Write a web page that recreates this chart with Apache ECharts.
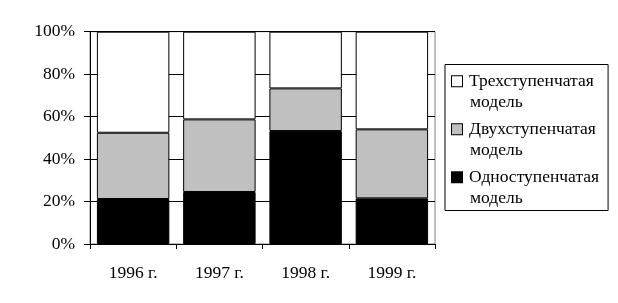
<!DOCTYPE html>
<html><head><meta charset="utf-8">
<script src="https://cdn.jsdelivr.net/npm/echarts@6/dist/echarts.min.js"></script>
<style>html,body{margin:0;padding:0;background:#fff}#c{width:618px;height:303px}</style>
</head><body><div id="c"></div>
<script>
const categories = ['1996 г.', '1997 г.', '1998 г.', '1999 г.'];
const oneStage = [21.2, 24.5, 53.2, 21.5];
const twoStage = [31.2, 34.2, 20.1, 32.5];
const threeStage = [47.6, 41.3, 26.7, 46.0];
const seriesNames = ['Одноступенчатая модель', 'Двухступенчатая модель', 'Трехступенчатая модель'];
const seriesColors = ['#000000', '#c0c0c0', '#ffffff'];
const yTicks = [0, 20, 40, 60, 80, 100];

const FONT = '"Liberation Serif", "Times New Roman", serif';
const FS = 17.5;
const chart = echarts.init(document.getElementById('c'), null, {renderer: 'canvas'});
const values = [oneStage, twoStage, threeStage];
const boxKeys = ['b0', 'b1', 'b2'];
const rich = {
  t: {fontFamily: FONT, fontSize: FS, color: '#000', lineHeight: 21.5},
  sp: {width: 7, height: 10},
  ind: {width: 18, height: 10}
};
seriesColors.forEach((c, i) => {
  rich[boxKeys[i]] = {width: 10, height: 10, backgroundColor: c, borderColor: '#000', borderWidth: 1};
});
chart.setOption({
  animation: false,
  grid: {left: 90, right: 183, top: 31.7, bottom: 59, show: true, borderColor: '#808080', borderWidth: 1},
  legend: {
    orient: 'vertical', left: 445, top: 64.5,
    padding: [6, 9, 1, 1], itemGap: 5, itemWidth: 0, itemHeight: 0,
    borderColor: '#000', borderWidth: 1, selectedMode: false,
    icon: 'rect',
    data: seriesNames.slice().reverse(),
    formatter: function (name) {
      const i = seriesNames.indexOf(name);
      const parts = name.split(' ');
      return '{' + boxKeys[i] + '|}{sp|}{t|' + parts[0] + '}\n{ind|}{t|' + parts[1] + '}';
    },
    textStyle: {fontFamily: FONT, fontSize: FS, color: '#000', lineHeight: 21.5, rich: rich}
  },
  xAxis: {
    type: 'category', data: categories,
    axisLine: {lineStyle: {color: '#000', width: 1}},
    axisTick: {show: true, length: 5, lineStyle: {color: '#000'}},
    axisLabel: {fontFamily: FONT, fontSize: FS, color: '#000', margin: 20}
  },
  yAxis: {
    type: 'value', min: 0, max: 100, interval: 20,
    axisLine: {show: true, lineStyle: {color: '#000', width: 1}},
    axisTick: {show: true, length: 6, lineStyle: {color: '#000'}},
    axisLabel: {fontFamily: FONT, fontSize: FS, color: '#000', margin: 15, formatter: '{value}%'},
    splitLine: {show: true, lineStyle: {color: '#000', width: 1}}
  },
  series: seriesNames.map((n, i) => ({
    name: n, type: 'bar', stack: 'total', data: values[i],
    barCategoryGap: '16%',
    itemStyle: {color: seriesColors[i], borderColor: '#000', borderWidth: 1}
  }))
});
</script></body></html>
